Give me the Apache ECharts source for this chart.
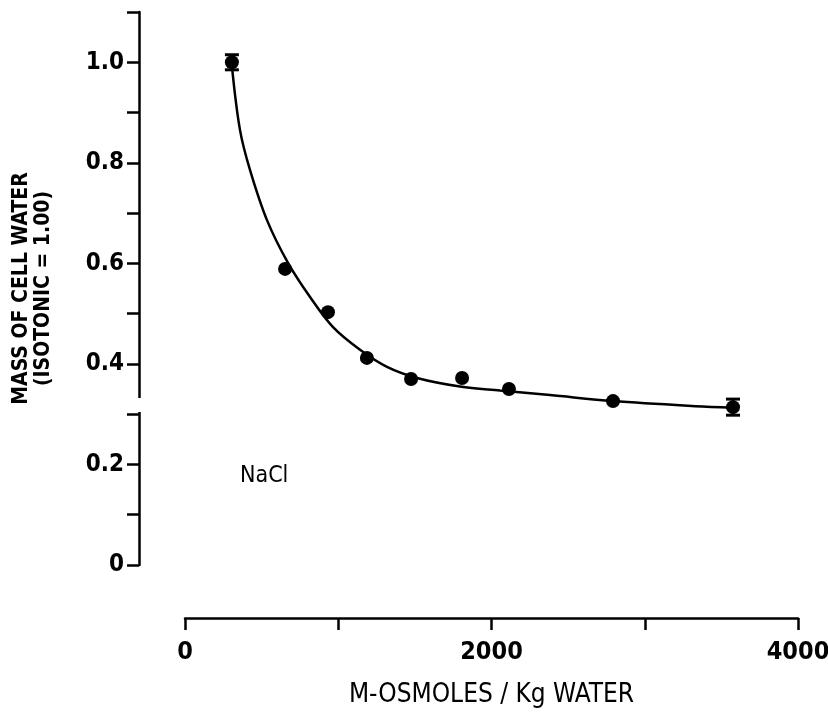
<!DOCTYPE html>
<html>
<head>
<meta charset="utf-8">
<script src="https://cdn.jsdelivr.net/npm/echarts@6/dist/echarts.min.js"></script>
<style>html,body{margin:0;padding:0;background:#fff;}#c{width:828px;height:715px;}</style>
</head>
<body>
<div id="c"></div>
<script>
// Measured points (mOsm / kg water, relative mass of cell water)
var pointX = [306, 653, 933, 1187, 1475, 1808, 2114, 2793, 3576];
var pointY = [1.0, 0.589, 0.503, 0.412, 0.370, 0.372, 0.350, 0.326, 0.314];
// Error bars (x, low, high)
var errX = [306, 3576];
var errLow = [0.985, 0.298];
var errHigh = [1.015, 0.330];
// Fitted curve
var curveX = [307, 359, 424, 535, 672, 816, 966, 1142, 1318, 1514, 1794, 2055, 2382, 2793, 3328, 3576];
var curveY = [0.99, 0.865, 0.786, 0.686, 0.601, 0.533, 0.473, 0.428, 0.394, 0.372, 0.355, 0.347, 0.338, 0.326, 0.316, 0.313];
var xTickLabels = ['0', '2000', '4000'];
var yTickLabels = ['0', '0.2', '0.4', '0.6', '0.8', '1.0'];
var xTitle = 'M-OSMOLES / Kg WATER';
var yTitle = 'MASS OF CELL WATER\n(ISOTONIC = 1.00)';
var annotation = 'NaCl';

var labelFont = '"Liberation Sans Narrow","DejaVu Sans Condensed","DejaVu Sans",sans-serif';

var chart = echarts.init(document.getElementById('c'), null, {renderer: 'canvas'});
var scatterData = pointX.map(function (x, i) { return [x, pointY[i]]; });
var curveData = curveX.map(function (x, i) { return [x, curveY[i]]; });
var errData = errX.map(function (x, i) { return [x, errLow[i], errHigh[i]]; });

chart.setOption({
  backgroundColor: '#ffffff',
  animation: false,
  grid: {left: 185, right: 30, top: 12, bottom: 150, containLabel: false, outerBoundsMode: 'none'},
  xAxis: {
    type: 'value', min: 0, max: 4000, interval: 1000,
    offset: 53,
    splitLine: {show: false},
    axisLine: {onZero: false, lineStyle: {color: '#000', width: 2.5}},
    axisTick: {length: 12, lineStyle: {color: '#000', width: 2.5}},
    axisLabel: {
      color: '#000', fontSize: 25, fontWeight: 'bold', fontFamily: labelFont, margin: 22,
      formatter: function (v) {
        var s = String(Math.round(v));
        return xTickLabels.indexOf(s) >= 0 ? s : '';
      }
    },
    name: xTitle, nameLocation: 'middle', nameGap: 64,
    nameTextStyle: {color: '#000', fontSize: 26, fontFamily: labelFont}
  },
  yAxis: {
    type: 'value', min: 0, max: 1.1, interval: 0.1,
    offset: 46,
    splitLine: {show: false},
    axisLine: {show: true, onZero: false, lineStyle: {color: '#000', width: 2.5}},
    axisTick: {show: true, length: 12, lineStyle: {color: '#000', width: 2.5}},
    axisLabel: {
      color: '#000', fontSize: 24, fontWeight: 'bold', fontFamily: labelFont, margin: 15,
      formatter: function (v) {
        var k = Math.round(v * 10);
        var s = k === 0 ? '0' : (k / 10).toFixed(1);
        return yTickLabels.indexOf(s) >= 0 ? s : '';
      }
    },
    name: yTitle, nameLocation: 'middle', nameGap: 84, nameRotate: 90,
    nameTextStyle: {color: '#000', fontSize: 21, fontWeight: 'bold', fontFamily: labelFont, lineHeight: 22, align: 'center'}
  },
  series: [
    {
      type: 'line', data: curveData, smooth: 0.35, showSymbol: false, symbol: 'none',
      lineStyle: {color: '#000', width: 2.5}, z: 2
    },
    {
      type: 'scatter', data: scatterData, symbol: 'circle', symbolSize: 14,
      itemStyle: {color: '#000', opacity: 1}, z: 3
    },
    {
      type: 'custom', data: errData, z: 4,
      renderItem: function (params, api) {
        var x = api.value(0);
        var lo = api.coord([x, api.value(1)]);
        var hi = api.coord([x, api.value(2)]);
        var w = 7;
        return {
          type: 'group',
          children: [
            {type: 'line', shape: {x1: lo[0], y1: lo[1], x2: hi[0], y2: hi[1]}, style: {stroke: '#000', lineWidth: 3}},
            {type: 'line', shape: {x1: lo[0] - w, y1: lo[1], x2: lo[0] + w, y2: lo[1]}, style: {stroke: '#000', lineWidth: 3}},
            {type: 'line', shape: {x1: hi[0] - w, y1: hi[1], x2: hi[0] + w, y2: hi[1]}, style: {stroke: '#000', lineWidth: 3}}
          ]
        };
      }
    }
  ],
  graphic: [
    {type: 'rect', left: 133, top: 398, shape: {width: 12, height: 14}, style: {fill: '#fff'}, z: 100},
    {type: 'text', left: 240, top: 465, style: {text: annotation, fill: '#000', font: '23px ' + labelFont}, z: 100}
  ]
});
</script>
</body>
</html>
